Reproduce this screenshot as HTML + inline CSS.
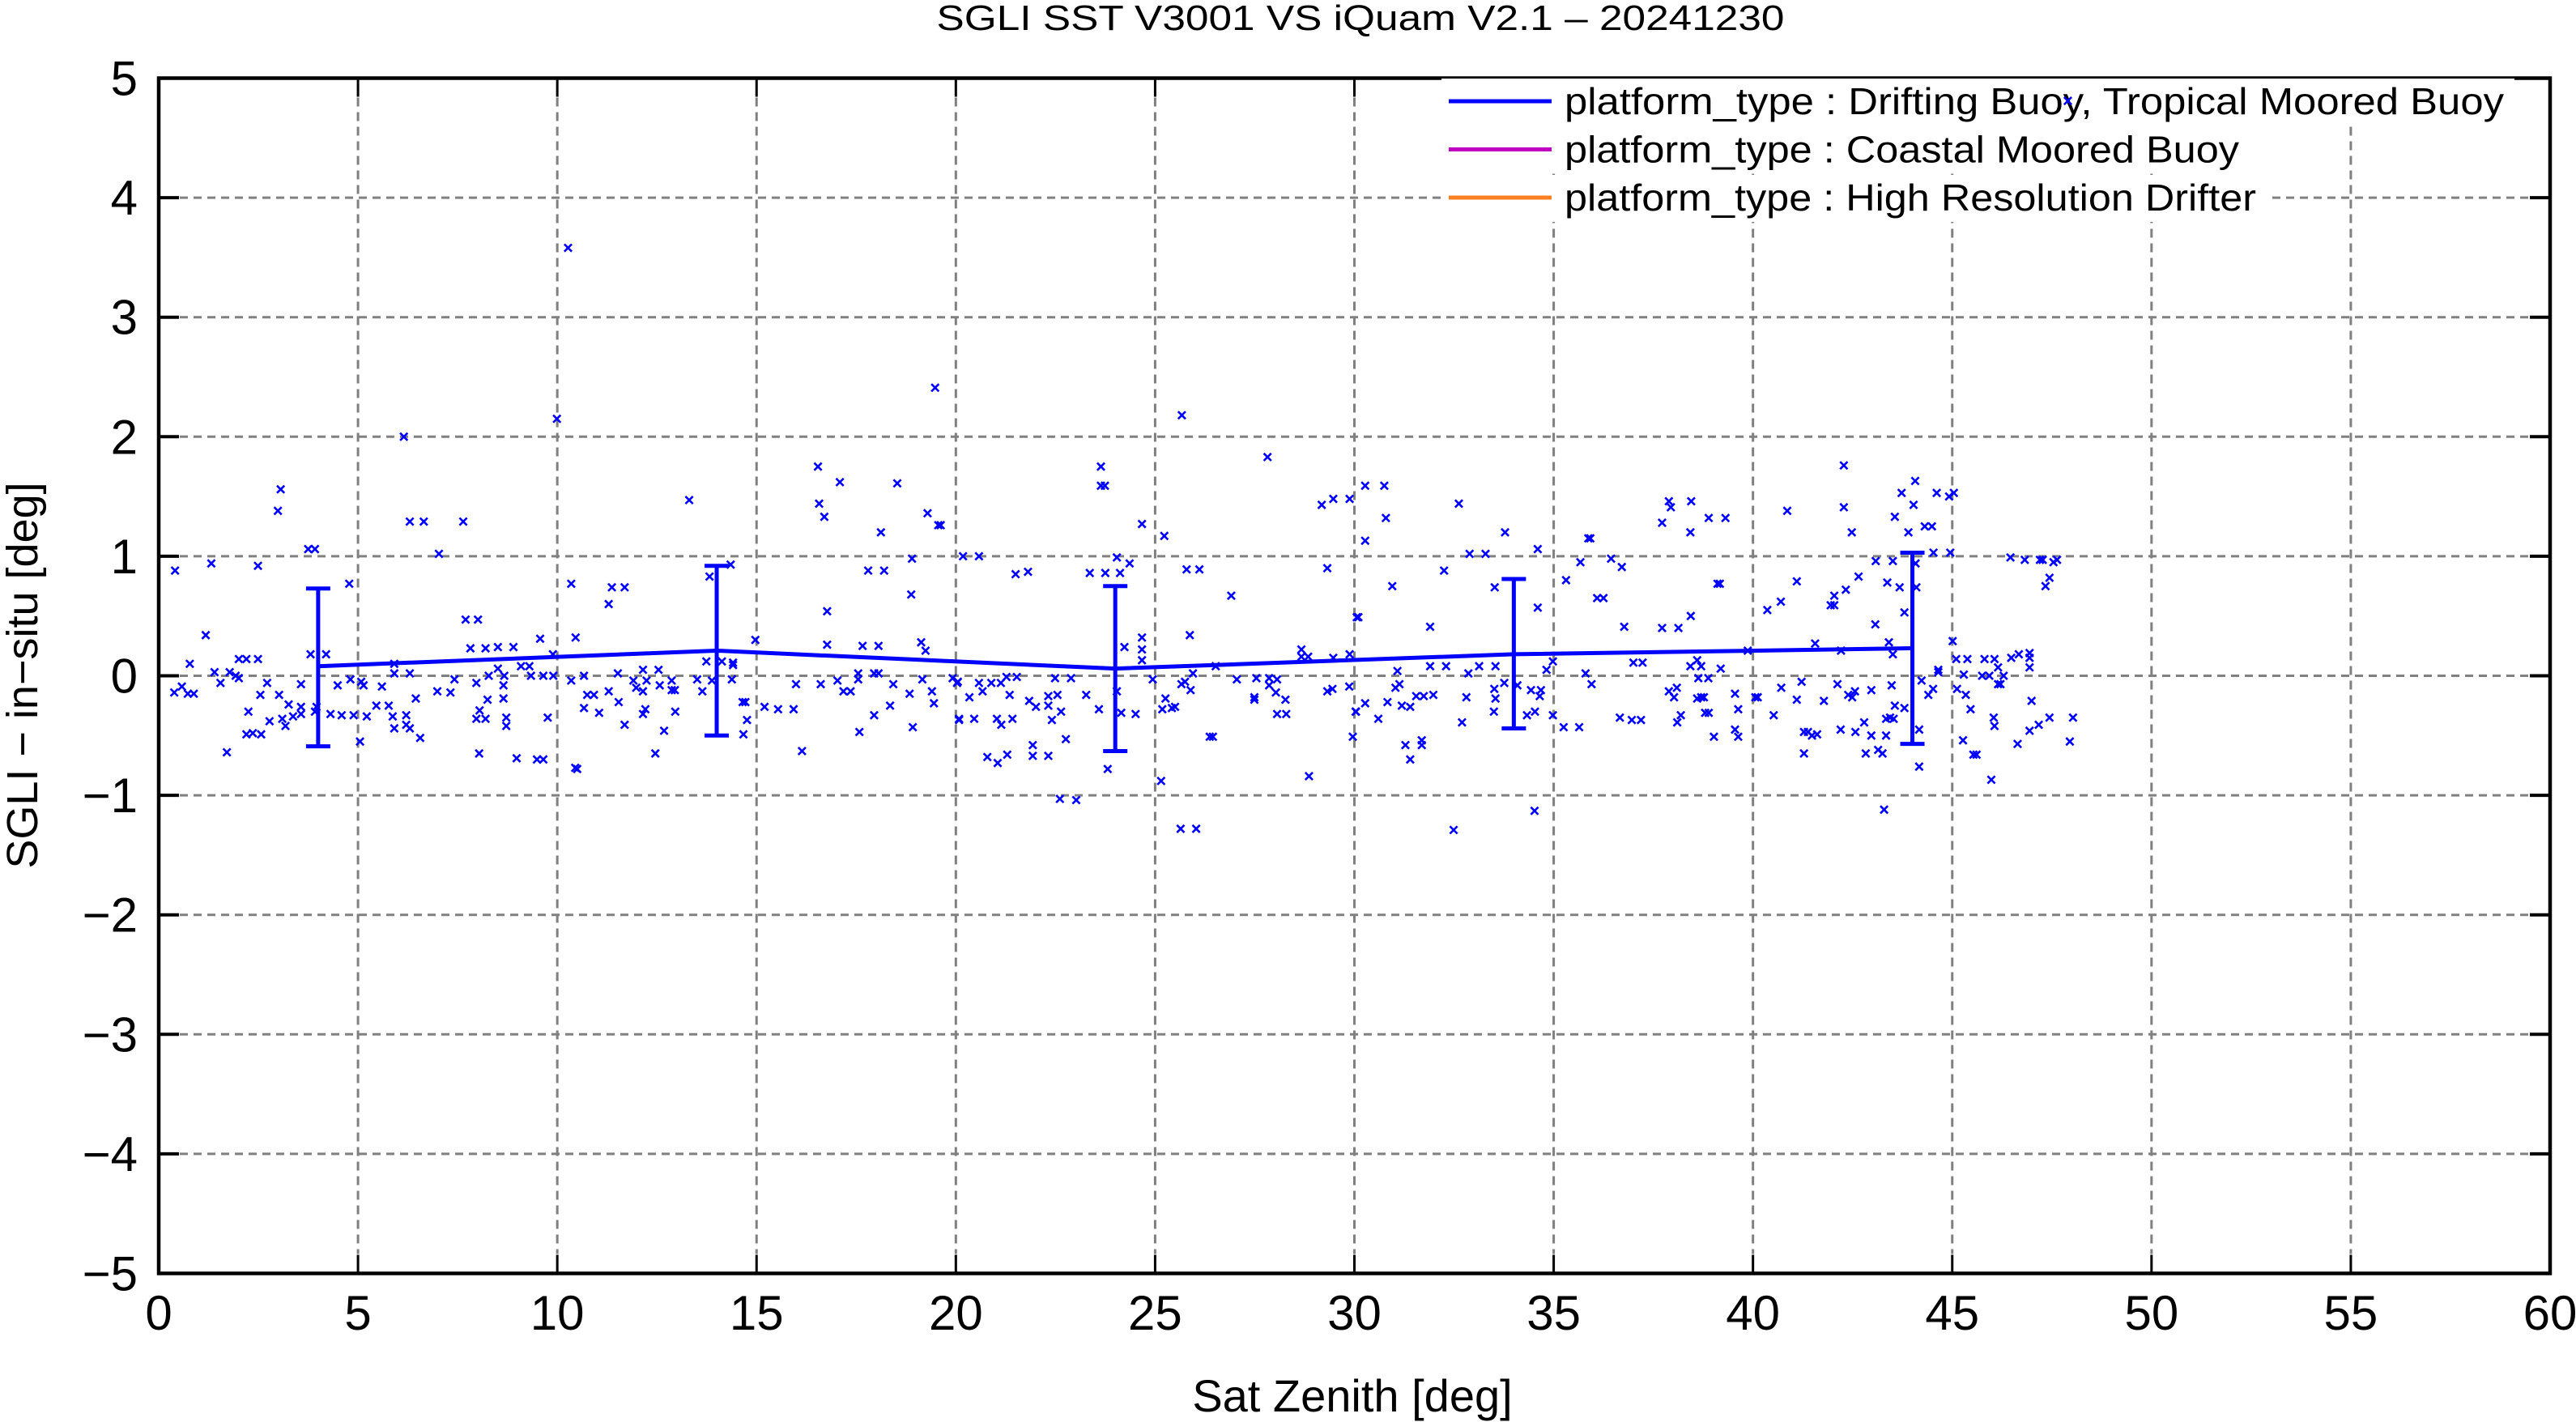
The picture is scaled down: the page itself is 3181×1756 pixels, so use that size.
<!DOCTYPE html>
<html><head><meta charset="utf-8"><title>SGLI SST V3001 VS iQuam V2.1</title>
<style>html,body{margin:0;padding:0;background:#fff}svg{display:block}text{font-family:"Liberation Sans",Arial,sans-serif}</style></head>
<body>
<svg id="chart" xmlns="http://www.w3.org/2000/svg" width="3181" height="1756" viewBox="0 0 3181 1756">
<rect x="0" y="0" width="3181" height="1756" fill="#fff"/>
<text x="1680" y="37" font-size="44" text-anchor="middle" textLength="1047" lengthAdjust="spacingAndGlyphs">SGLI SST V3001 VS iQuam V2.1  – 20241230</text>
<g id="grid"></g>
<g id="points"></g>
<g id="meanline"></g>
<g id="axes"></g>
<g id="legend"></g>
<text x="1670" y="1743" font-size="56" text-anchor="middle">Sat Zenith [deg]</text>
<text transform="translate(46,834) rotate(-90)" font-size="54" text-anchor="middle">SGLI − in−situ [deg]</text>
</svg>
<script>
const xTicks = [0,5,10,15,20,25,30,35,40,45,50,55,60];
const yTicks = [-5,-4,-3,-2,-1,0,1,2,3,4,5];
const yTickLabels = ["−5","−4","−3","−2","−1","0","1","2","3","4","5"];
const binX = [4,14,24,34,44];
const binMean = [0.08,0.21,0.06,0.18,0.23];
const binUpper = [0.73,0.92,0.75,0.81,1.03];
const binLower = [-0.59,-0.50,-0.63,-0.44,-0.57];
const legendLabels = ["platform_type : Drifting Buoy, Tropical Moored Buoy","platform_type : Coastal Moored Buoy","platform_type : High Resolution Drifter"];
const legendColors = ["#0000ff","#c000c0","#ff8020"];
const legendWidths = [1160,833,854];
const ptX = [0.41,1.32,2.49,2.99,3.06,3.75,3.92,4.78,6.15,6.3,6.65,7.03,7.64,9.99,1.18,0.78,0.39,0.58,0.73,0.88,1.40,1.55,1.71,1.78,1.93,2.01,2.01,2.2,2.49,2.25,2.2,2.36,2.57,2.55,2.72,2.78,3.02,3.1,3.18,3.26,3.37,3.57,3.57,3.57,3.81,3.92,3.96,4.2,4.31,4.49,4.59,4.81,4.89,5.05,5.08,5.14,5.22,5.46,5.6,5.77,5.87,5.91,5.91,5.91,6.21,6.21,6.3,6.3,6.45,6.56,6.99,7.32,7.42,7.7,8.01,7.82,8.2,8.51,8.9,7.97,8.05,7.97,8.2,8.04,8.25,8.28,8.51,8.65,8.65,8.67,8.72,8.72,8.98,9.09,9.3,9.34,9.49,9.65,9.57,9.65,9.9,9.76,9.89,
10.27,13.31,16.54,16.57,16.7,17.09,18.53,18.12,19.29,19.48,19.56,19.62,18.9,17.8,18.2,18.88,16.77,16.77,17.66,18.06,19.13,19.24,14.97,14.35,13.82,10.35,11.37,11.69,11.29,10.46,13.74,14.13,14.41,14.41,10.35,10.67,11.52,11.91,11.98,12.15,12.15,12.24,12.54,12.57,12.87,12.87,12.95,10.75,10.92,10.67,11.05,11.29,11.54,11.69,12.15,12.21,12.68,12.96,12.46,10.45,10.5,13.51,13.64,13.88,14.38,14.65,14.72,14.76,14.67,15.2,15.54,15.93,15.99,16.14,16.61,17.03,17.18,17.36,17.55,17.55,17.58,17.95,18.06,17.95,18.35,18.43,18.84,18.92,19.16,19.4,19.45,19.92,20.03,20.08,
20.18,20.58,21.5,21.81,23.64,23.64,23.74,24.67,25.23,25.67,27.82,29.18,29.47,29.88,29.32,30.06,23.36,23.75,24.12,24.04,24.36,26.91,25.79,26.11,25.87,24.67,24.67,24.67,24.23,28.67,28.67,28.84,29.47,29.88,26.52,25.95,20.05,20.34,20.08,20.46,20.58,20.89,21.13,20.67,21.27,21.53,21.35,21.03,21.14,21.42,20.79,21.05,21.29,21.84,22.01,21.93,21.93,22.32,22.32,22.32,22.55,22.41,22.64,22.49,22.89,22.76,22.61,23.02,23.27,23.59,24.04,24.15,24.51,23.81,24.94,25.15,25.26,25.18,25.42,25.5,25.66,25.75,25.89,25.64,26.03,26.37,26.45,27.05,27.54,27.86,28.06,27.86,27.49,27.49,28.03,28.27,28.06,28.29,28.86,29.32,29.45,29.87,30.04,29.96,
30.27,30.75,30.79,30.27,32.62,33.78,32.89,33.29,34.6,32.25,30.95,33.52,34.6,30.1,31.9,35.31,35.67,35.87,35.92,36.44,36.71,36.09,36.25,36.77,37.72,37.89,37.94,38.45,38.43,38.89,39.31,39.11,39.17,38.44,37.72,38.13,39.87,37.0,37.23,38.43,38.6,38.7,39.19,34.98,34.82,31.9,32.3,33.13,33.54,32.86,31.08,35.8,30.03,30.27,30.6,30.83,31.03,31.13,31.19,31.4,31.55,31.74,31.98,31.28,31.69,31.69,31.4,32.81,32.7,33.51,33.54,33.5,33.76,34.09,34.43,34.68,34.65,34.33,34.53,34.98,35.25,35.64,35.95,36.66,36.96,37.19,37.89,38.09,38.02,38.1,38.19,38.63,38.88,38.6,38.7,38.77,38.8,38.89,39.02,39.55,39.63,39.55,39.63,40.06,34.52,32.49,
42.28,40.86,42.28,42.48,43.73,44.07,44.03,43.56,43.9,44.31,44.49,44.61,44.92,45.04,44.53,44.95,43.08,43.51,44.08,44.1,42.65,43.37,43.68,42.33,42.04,41.95,42.04,41.1,40.7,40.36,43.8,43.07,41.56,42.21,43.41,43.51,46.46,46.82,47.2,47.27,47.54,47.63,47.44,47.34,45.01,45.1,45.38,45.81,46.06,46.15,46.48,46.67,46.94,46.94,46.94,44.65,44.65,45.29,45.75,45.93,46.29,46.15,46.21,44.23,44.52,44.4,45.12,45.34,45.46,40.12,40.71,41.22,40.52,41.1,41.78,42.12,42.39,42.56,42.49,42.97,43.48,43.56,43.8,43.34,43.44,43.53,42.79,41.28,41.38,41.48,41.61,42.2,42.57,42.97,43.34,41.28,42.83,43.14,43.25,44.17,44.17,43.29,45.27,45.53,45.61,45.98,46.04,46.06,46.64,46.99,46.94,47.17,47.44,48.03,47.95,47.9];
const ptY = [0.88,0.94,0.92,1.38,1.56,1.06,1.06,0.77,2.0,1.29,1.29,1.02,1.29,2.15,0.34,0.1,-0.14,-0.09,-0.15,-0.15,0.03,-0.06,-0.64,0.03,0,-0.02,0.14,0.14,0.14,-0.3,-0.49,-0.48,-0.49,-0.16,-0.06,-0.38,-0.16,-0.36,-0.42,-0.24,-0.34,-0.07,-0.26,-0.32,0.18,-0.3,-0.26,0.18,-0.32,-0.08,-0.33,-0.03,-0.33,-0.55,-0.05,-0.08,-0.34,-0.25,-0.09,-0.25,-0.34,0.1,0.02,-0.44,-0.33,-0.41,0.02,-0.44,-0.19,-0.52,-0.13,-0.14,-0.03,0.47,0.47,0.23,0.23,0.24,0.24,-0.06,-0.29,-0.36,-0.36,-0.65,-0.2,0,0.06,-0.08,-0.19,0,-0.35,-0.42,-0.69,0.08,0.08,0,-0.7,-0.7,0.31,0,0,-0.35,0.18,
3.58,1.47,1.75,1.44,1.33,1.62,1.61,1.2,1.36,2.41,1.26,1.26,0.98,0.88,0.88,0.68,0.54,0.26,0.25,0.25,0.28,0.21,0.3,0.93,0.83,0.77,0.74,0.74,0.6,0.32,0.12,0.12,0.11,0.09,-0.04,0,0.02,-0.04,-0.1,0.05,-0.13,-0.04,0.05,-0.08,-0.04,-0.12,-0.12,-0.16,-0.16,-0.27,-0.31,-0.13,-0.22,-0.41,-0.32,-0.28,-0.46,-0.3,-0.65,-0.77,-0.78,-0.03,-0.13,-0.04,-0.03,-0.22,-0.22,-0.37,-0.49,-0.26,-0.28,-0.28,-0.07,-0.63,-0.07,-0.04,-0.13,-0.13,0.02,-0.03,-0.47,0.02,0.02,-0.33,-0.25,-0.07,-0.15,-0.43,-0.03,-0.13,-0.23,-0.02,-0.06,-0.37,
1.0,1.0,0.85,0.87,1.75,1.59,1.59,1.27,1.17,2.18,1.83,1.43,1.48,1.48,0.9,0.49,0.86,0.86,0.86,0.99,0.94,0.67,0.89,0.89,0.34,0.32,0.22,0.13,0.24,0.22,0.16,0.16,0.15,0.18,0.08,0.02,-0.05,-0.18,-0.36,-0.36,-0.06,-0.06,-0.06,-0.13,-0.01,-0.01,-0.16,-0.36,-0.41,-0.36,-0.68,-0.73,-0.66,-0.21,-0.26,-0.58,-0.67,-0.67,-0.17,-0.25,-0.16,-0.37,-0.3,-0.02,-0.02,-0.53,-1.03,-1.04,-0.16,-0.28,-0.13,-0.31,-0.32,-0.78,-0.03,-0.88,-0.19,-0.28,-0.27,-0.26,-0.07,-0.05,-0.12,-1.28,-1.28,-0.51,-0.51,-0.03,-0.02,-0.02,-0.03,-0.08,-0.18,-0.2,-0.14,-0.2,-0.32,-0.32,-0.84,-0.13,-0.11,-0.09,-0.3,-0.51,
1.59,1.59,1.32,1.13,1.44,1.2,1.02,1.02,1.06,0.88,0.75,0.74,0.57,0.49,0.41,0.8,0.95,1.15,1.15,0.98,0.91,0.65,0.65,0.41,1.28,1.46,1.41,1.46,1.2,1.32,1.32,0.77,0.77,0.5,0.4,0.4,0.21,0.11,0.11,0.08,0.13,0.08,0.06,0.12,0.05,0.08,0.08,0.08,0.08,0.02,0.04,0.02,-0.3,-0.23,-0.36,-0.22,-0.1,-0.07,-0.25,-0.26,-0.17,-0.17,-0.16,-0.58,-0.58,-0.54,-0.7,-0.18,-0.39,-0.11,-0.19,-0.3,-0.06,-0.08,-0.12,-0.12,-0.17,-0.33,-0.3,-0.33,-0.43,-0.43,-0.07,-0.35,-0.37,-0.37,-0.13,-0.1,-0.18,-0.39,-0.33,-0.02,-0.02,-0.19,-0.18,-0.18,-0.31,-0.31,-0.51,-0.15,-0.28,-0.45,-0.51,-0.18,-1.13,-1.29,
1.76,1.38,1.41,1.2,1.53,1.63,1.43,1.33,1.2,1.25,1.25,1.53,1.5,1.53,1.03,1.03,0.96,0.96,0.94,0.74,0.83,0.78,0.74,0.72,0.67,0.59,0.59,0.79,0.62,0.55,0.53,0.43,0.27,0.21,0.28,0.18,0.99,0.97,0.97,0.97,0.95,0.97,0.82,0.75,0.29,0.14,0.14,0.14,0.14,0.07,0.15,0.18,0.19,0.15,0.07,0.05,0.03,0.01,0,0,0,-0.07,-0.07,-0.04,-0.11,-0.16,-0.11,-0.16,-0.28,-0.18,-0.1,-0.05,-0.33,-0.2,-0.21,-0.07,-0.16,-0.13,-0.18,-0.12,-0.08,-0.25,-0.27,-0.36,-0.35,-0.36,-0.39,-0.47,-0.47,-0.5,-0.49,-0.45,-0.47,-0.5,-0.5,-0.65,-0.65,-0.62,-0.65,-0.45,-0.76,-1.12,-0.54,-0.66,-0.66,-0.87,-0.35,-0.42,-0.57,-0.21,-0.46,-0.41,-0.35,-0.35,-0.55,4.81];

const NS='http://www.w3.org/2000/svg';
const L=196, R=3149, T=96.5, B=1572.5;
function X(d){return L + d*(R-L)/60;}
function Y(v){return 834.5 - v*(B-T)/10;}
function mk(tag, attrs, parent){const e=document.createElementNS(NS,tag);for(const k in attrs)e.setAttribute(k,attrs[k]);parent.appendChild(e);return e;}

const grid=document.getElementById('grid');
xTicks.forEach(t=>{ if(t===0||t===60) return;
  const g=mk('line',{x1:X(t),x2:X(t),y1:T+24,y2:B-24,stroke:'#808080','stroke-width':3,'stroke-dasharray':'11 7'},grid);
  
  
});
yTicks.forEach(t=>{ if(t===5||t===-5) return;
  const g=mk('line',{x1:L+26,x2:R-26,y1:Y(t),y2:Y(t),stroke:'#808080','stroke-width':3,'stroke-dasharray':'10 7'},grid);
  
  
});

const pts=document.getElementById('points');
for(let i=0;i<ptX.length;i++){
  const cx=X(ptX[i]), cy=Y(ptY[i]), s=4.6;
  const p=mk('path',{d:`M${cx-s},${cy-s}L${cx+s},${cy+s}M${cx-s},${cy+s}L${cx+s},${cy-s}`,stroke:'#0000ff','stroke-width':2.6,fill:'none'},pts);
  
  
}

const ml=document.getElementById('meanline');
const pl=mk('polyline',{points:binX.map((x,i)=>X(x)+','+Y(binMean[i])).join(' '),fill:'none',stroke:'#0000ff','stroke-width':5},ml);


binX.forEach((x,i)=>{
  const g=mk('path',{d:`M${X(x)},${Y(binUpper[i])}L${X(x)},${Y(binLower[i])}M${X(x)-15},${Y(binUpper[i])}L${X(x)+15},${Y(binUpper[i])}M${X(x)-15},${Y(binLower[i])}L${X(x)+15},${Y(binLower[i])}`,stroke:'#0000ff','stroke-width':5,fill:'none'},ml);
  
  
});

const ax=document.getElementById('axes');
xTicks.forEach(t=>{
  const a=mk('path',{d:`M${X(t)},${B}L${X(t)},${B-23}M${X(t)},${T}L${X(t)},${T+23}`,stroke:'#000','stroke-width':3},ax);
  
  
  const tx=mk('text',{x:X(t),y:1642,'font-size':60,'text-anchor':'middle'},ax);
  tx.textContent=String(t);
  
  
});
yTicks.forEach((t,i)=>{
  const a=mk('path',{d:`M${L},${Y(t)}L${L+25},${Y(t)}M${R},${Y(t)}L${R-25},${Y(t)}`,stroke:'#000','stroke-width':4},ax);
  
  
  const tx=mk('text',{x:170,y:Y(t)+21,'font-size':60,'text-anchor':'end'},ax);
  tx.textContent=yTickLabels[i];
  
  
});
const fr=mk('rect',{x:L,y:T,width:R-L,height:B-T,fill:'none',stroke:'#000','stroke-width':4.5},ax);



const lg=document.getElementById('legend');
legendLabels.forEach((lab,i)=>{
  const cy=125+i*59.5;
  const bg=mk('rect',{x:1780,y:cy-28,width:legendWidths[i]+165,height:58,fill:'#fff'},lg);
  
  
  const ln=mk('line',{x1:1789,x2:1916,y1:cy,y2:cy,stroke:legendColors[i],'stroke-width':5},lg);
  
  
  const tx=mk('text',{x:1932,y:cy+16,'font-size':46,textLength:legendWidths[i],lengthAdjust:'spacingAndGlyphs'},lg);
  tx.textContent=lab;
  
  
});
// point overlapping legend drawn on top
const last=ptX.length-1;
const s=4.6, cx=X(ptX[last]), cy=Y(ptY[last]);
const op=mk('path',{d:`M${cx-s},${cy-s}L${cx+s},${cy+s}M${cx-s},${cy+s}L${cx+s},${cy-s}`,stroke:'#0000ff','stroke-width':2.6},lg);


</script>
</body></html>
